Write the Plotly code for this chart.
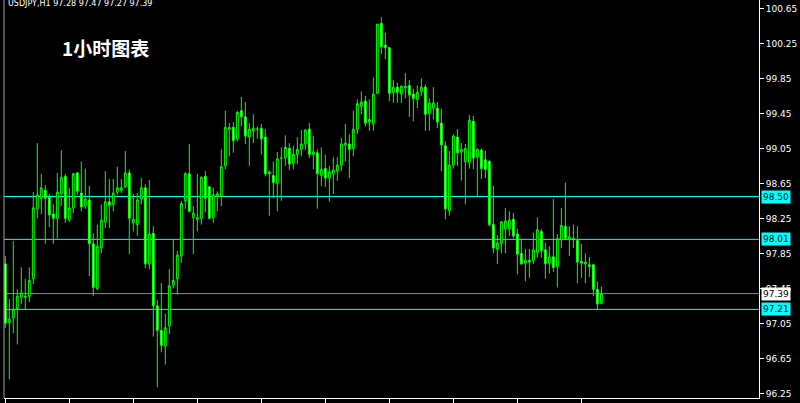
import plotly.graph_objects as go

# ---- data (USDJPY H1) ----
opens = [97.73,97.06,97.11,97.22,97.35,97.36,97.36,97.56,98.36,98.48,
         98.57,98.49,98.30,98.25,98.53,98.73,98.23,98.37,98.77,98.54,
         98.39,98.46,97.96,97.45,97.91,98.21,98.44,98.41,98.55,98.57,
         98.61,98.77,98.20,98.18,98.47,98.60,97.73,98.08,97.25,96.97,
         96.79,97.02,97.49,97.56,97.82,98.45,98.76,98.26,98.24,98.25,
         98.73,98.61,98.26,98.50,98.50,98.85,99.27,99.29,99.16,99.48,
         99.41,99.18,99.25,99.27,99.28,99.18,98.76,98.74,98.65,98.94,
         98.94,99.05,98.88,98.98,99.04,99.10,99.27,98.98,99.00,98.74,
         98.82,98.71,98.76,98.79,98.86,99.09,99.10,99.05,99.27,99.53,
         99.59,99.35,99.33,99.68,100.48,100.23,100.20,99.69,99.75,99.67,
         99.74,99.77,99.67,99.61,99.70,99.75,99.45,99.51,99.51,99.34,
         99.08,98.34,98.86,99.18,99.01,98.90,98.89,99.36,98.95,99.03,
         98.92,98.90,98.18,97.90,97.96,98.13,98.13,98.24,98.07,97.85,
         97.74,97.77,97.77,97.86,98.10,97.89,97.74,97.81,97.70,98.01,
         98.16,98.01,98.02,98.00,97.76,97.73,97.72,97.72,97.44,97.28]
highs = [97.82,97.33,97.99,97.44,97.69,97.56,97.69,98.55,99.11,98.76,
         98.63,98.53,98.41,98.77,99.03,98.76,98.60,98.77,98.78,98.90,
         98.82,98.62,98.08,98.18,98.41,98.79,98.70,98.70,98.84,98.70,
         99.02,98.81,98.53,98.54,98.71,98.64,98.69,98.16,97.32,97.51,
         97.16,97.67,98.01,97.88,98.45,98.78,99.10,98.39,98.76,98.73,
         98.79,98.62,98.60,98.56,99.04,99.48,99.34,99.35,99.48,99.64,
         99.58,99.34,99.44,99.30,99.33,99.27,98.80,98.90,99.01,99.06,
         99.20,99.11,99.08,99.18,99.26,99.27,99.34,99.19,99.04,99.06,
         98.98,98.85,98.95,98.95,99.17,99.33,99.21,99.48,99.61,99.70,
         99.65,99.61,99.86,100.47,100.55,100.37,100.21,99.83,99.80,99.77,
         99.91,99.83,99.73,99.77,99.85,99.78,99.62,99.75,99.58,99.50,
         99.13,99.02,99.21,99.27,99.11,99.10,99.43,99.42,99.05,99.05,
         99.02,98.92,98.62,98.06,98.22,98.37,98.33,98.31,98.13,98.02,
         97.90,97.90,98.09,98.26,98.13,97.97,97.93,98.47,98.07,98.37,
         98.66,98.16,98.18,98.16,97.96,97.85,97.81,97.73,97.53,97.47]
lows = [97.00,96.41,96.94,96.81,97.27,97.20,97.29,97.50,98.25,98.30,
        97.96,98.15,97.96,98.02,98.39,98.20,98.21,98.31,98.52,98.33,
        98.36,97.59,97.36,97.43,97.85,98.14,98.14,98.33,98.52,98.54,
        98.60,97.84,98.10,98.05,98.41,97.68,97.67,96.90,96.32,96.72,
        96.58,96.93,97.45,97.38,97.74,98.36,98.32,97.84,98.10,98.18,
        98.32,98.24,98.20,98.33,98.39,98.81,98.96,99.00,99.13,99.30,
        99.10,98.85,99.11,99.16,98.98,98.73,98.28,98.48,98.33,98.45,
        98.85,98.80,98.81,98.87,98.96,99.03,98.94,98.81,98.36,98.62,
        98.61,98.44,98.53,98.68,98.79,98.90,98.71,98.96,99.21,99.44,
        99.30,99.25,99.25,99.67,100.13,100.07,99.59,99.57,99.57,99.57,
        99.62,99.41,99.36,99.51,99.65,99.25,99.25,99.38,99.28,98.79,
        98.24,98.28,98.82,98.85,98.68,98.41,98.82,98.81,98.50,98.70,
        98.71,98.16,97.85,97.73,97.85,97.85,98.05,98.02,97.61,97.72,
        97.53,97.57,97.73,97.80,97.80,97.56,97.62,97.64,97.46,97.91,
        98.01,97.82,97.91,97.51,97.57,97.51,97.58,97.36,97.21,97.27]
closes = [97.05,97.10,97.21,97.36,97.40,97.35,97.54,98.37,98.52,98.60,
          98.48,98.29,98.25,98.55,98.72,98.25,98.37,98.76,98.56,98.38,
          98.47,97.96,97.46,97.93,98.23,98.44,98.40,98.54,98.60,98.60,
          98.77,98.25,98.24,98.46,98.60,97.73,98.07,97.25,96.97,96.80,
          97.00,97.48,97.54,97.83,98.42,98.76,98.33,98.31,98.26,98.72,
          98.48,98.25,98.52,98.53,98.84,99.29,99.29,99.14,99.46,99.41,
          99.19,99.27,99.28,99.27,99.16,98.76,98.78,98.66,98.93,98.94,
          99.06,98.87,98.98,99.04,99.10,99.26,98.98,99.01,98.76,98.81,
          98.71,98.78,98.80,98.86,99.10,99.11,99.04,99.27,99.56,99.58,
          99.34,99.38,99.67,100.47,100.21,100.20,99.68,99.75,99.69,99.76,
          99.76,99.66,99.62,99.69,99.75,99.44,99.57,99.57,99.35,99.09,
          98.36,98.86,99.19,99.00,99.04,99.05,99.37,98.94,99.04,98.82,
          98.81,98.18,97.91,97.97,98.21,98.22,98.23,98.05,97.84,97.73,
          97.77,97.75,97.89,98.12,97.88,97.73,97.81,97.69,98.02,98.17,
          98.02,98.04,98.01,97.75,97.74,97.75,97.70,97.44,97.27,97.39]
bars = list(range(len(opens)))

symbol_text = "USDJPY,H1 97.28 97.47 97.27 97.39"
chart_title = "1小时图表"
price_ticks = [100.65, 100.25, 99.85, 99.45, 99.05, 98.65, 98.25, 97.85, 97.45, 97.05, 96.65, 96.25]
cyan_levels = [98.50, 98.01, 97.21]
current_price = 97.39
time_ticks = list(range(0, 150, 16))

CYAN = "#00ffff"
LIME = "#00ff00"

fig = go.Figure()
fig.add_trace(go.Candlestick(
    x=bars, open=opens, high=highs, low=lows, close=closes,
    increasing=dict(line=dict(color=LIME, width=1), fillcolor="#000000"),
    decreasing=dict(line=dict(color=LIME, width=1), fillcolor="#ffffff"),
    whiskerwidth=0, hoverinfo="skip",
))

shapes = []
for lv in cyan_levels:
    shapes.append(dict(type="line", xref="paper", x0=0, x1=1, yref="y", y0=lv, y1=lv,
                       line=dict(color=CYAN, width=1), layer="below"))
shapes.append(dict(type="line", xref="paper", x0=0, x1=1, yref="y", y0=current_price, y1=current_price,
                   line=dict(color="#8c8c8c", width=1), layer="below"))
shapes.append(dict(type="line", xref="paper", x0=0, x1=0, yref="paper", y0=0, y1=1,
                   line=dict(color="#a0a0a0", width=1)))

annotations = []
for lv in cyan_levels:
    annotations.append(dict(xref="paper", x=1, xanchor="left", xshift=2, yref="y", y=lv,
                            text=f"{lv:.2f}", showarrow=False, bgcolor=CYAN, borderpad=1,
                            font=dict(family="DejaVu Sans", size=9, color="#000000")))
annotations.append(dict(xref="paper", x=1, xanchor="left", xshift=2, yref="y", y=current_price,
                        text=f"{current_price:.2f}", showarrow=False, bgcolor="#ffffff", borderpad=1,
                        font=dict(family="DejaVu Sans", size=9, color="#000000")))
annotations.append(dict(xref="paper", x=0, xanchor="left", xshift=3, yref="paper", y=1, yanchor="top",
                        yshift=2, text=symbol_text, showarrow=False, borderpad=0,
                        font=dict(family="DejaVu Sans", size=8, color="#ffffff")))
annotations.append(dict(xref="paper", x=0, xanchor="left", xshift=56, yref="paper", y=1 - 47 / 398,
                        yanchor="middle", text=f"<b>{chart_title}</b>", showarrow=False,
                        font=dict(family="Noto Sans CJK SC", size=19, color="#ffffff")))

fig.update_layout(
    width=800, height=403,
    margin=dict(l=4, r=41, t=0, b=5),
    paper_bgcolor="#000000", plot_bgcolor="#000000",
    showlegend=False, hovermode=False, boxgap=0.35,
    shapes=shapes, annotations=annotations,
    xaxis=dict(range=[-0.325, 188.4], rangeslider=dict(visible=False), showgrid=False, zeroline=False,
               showline=True, linecolor="#ffffff", linewidth=1, ticks="outside", ticklen=5,
               tickcolor="#ffffff", tickvals=time_ticks, showticklabels=False, fixedrange=True),
    yaxis=dict(range=[96.1971, 100.7457], side="right", showgrid=False, zeroline=False,
               showline=True, linecolor="#ffffff", linewidth=1, ticks="outside", ticklen=4,
               tickcolor="#ffffff", tickvals=price_ticks, ticktext=[f"{v:.2f}" for v in price_ticks],
               tickfont=dict(family="DejaVu Sans", size=9, color="#ffffff"), fixedrange=True),
)

fig.write_html("out.html", config={"staticPlot": True},
               post_script="document.body.style.margin='0';document.body.style.background='#000';")
